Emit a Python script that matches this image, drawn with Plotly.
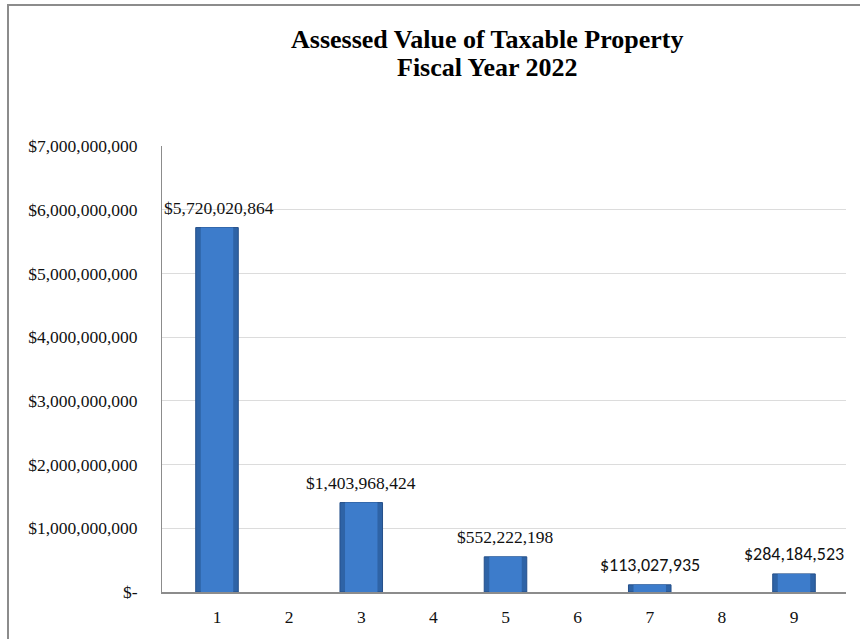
import plotly.graph_objects as go

# Chart data
categories = ["1", "2", "3", "4", "5", "6", "7", "8", "9"]
assessed_values = [5720020864, None, 1403968424, None, 552222198, None, 113027935, None, 284184523]
value_labels = ["$5,720,020,864", "", "$1,403,968,424", "", "$552,222,198", "", "$113,027,935", "", "$284,184,523"]
y_tick_values = [0, 1e9, 2e9, 3e9, 4e9, 5e9, 6e9, 7e9]
y_tick_labels = ["$-", "$1,000,000,000", "$2,000,000,000", "$3,000,000,000",
                 "$4,000,000,000", "$5,000,000,000", "$6,000,000,000", "$7,000,000,000"]
title_lines = ["Assessed Value of Taxable Property", "Fiscal Year 2022"]

serif = "Liberation Serif, Times New Roman, serif"
sans = "Carlito, Liberation Sans, Arial, sans-serif"

# Plot area in pixels
W, H = 860, 639
L, R, T, B = 162, 846, 146, 598
pw, ph = R - L, B - T


def px_x(x):
    return (x - L) / pw


def px_y(y):
    return (B - y) / ph


fig = go.Figure()
# Darker outer body of each bar
fig.add_trace(go.Bar(
    x=categories, y=assessed_values, width=0.59,
    marker=dict(color="#2E63A6", line=dict(color="#25508A", width=1)),
    hoverinfo="skip",
))
# Lighter centre face of each bar
fig.add_trace(go.Bar(
    x=categories, y=assessed_values, width=0.45,
    marker=dict(color="#3D7CCB", line=dict(width=0)),
    hoverinfo="skip",
))

# Value labels above the bars
sans_labels = {"$113,027,935", "$284,184,523"}
for i, (val, lab) in enumerate(zip(assessed_values, value_labels)):
    if val is None or not lab:
        continue
    fig.add_annotation(
        x=i, y=val, text=lab, showarrow=False,
        yanchor="middle", yshift=20, xshift=(2 if i == 0 else 0),
        font=dict(family=sans if lab in sans_labels else serif,
                  size=18 if lab in sans_labels else 17.5, color="#111"),
    )

# Two-line bold title
for line, yc in zip(title_lines, [38, 66]):
    fig.add_annotation(
        xref="paper", yref="paper", x=px_x(487), y=px_y(yc),
        text=f"<b>{line}</b>", showarrow=False, xanchor="center", yanchor="middle",
        font=dict(family=serif, size=26, color="#000"),
    )

# Outer chart frame
fig.add_shape(type="rect", xref="paper", yref="paper",
              x0=px_x(8), x1=px_x(880), y0=px_y(660), y1=px_y(3),
              line=dict(color="#8C8C8C", width=2), fillcolor="rgba(0,0,0,0)", layer="below")

fig.update_layout(
    width=W, height=H,
    margin=dict(l=L, r=W - R, t=T, b=H - B),
    paper_bgcolor="white", plot_bgcolor="white",
    showlegend=False,
    barmode="overlay",
    xaxis=dict(
        type="category", showgrid=False, ticks="", showline=True,
        linecolor="#8C8C8C", linewidth=1.5,
        tickfont=dict(family=serif, size=17.5, color="#111"),
        ticklabelstandoff=8,
    ),
    yaxis=dict(
        range=[0, 7e9], tickvals=y_tick_values, ticktext=y_tick_labels,
        showgrid=True, gridcolor="#DCDCDC", gridwidth=1,
        showline=True, linecolor="#8C8C8C", linewidth=1,
        zeroline=False, ticks="",
        tickfont=dict(family=serif, size=17.5, color="#111"),
        ticklabelstandoff=20,
    ),
)

fig.write_html("out.html")
